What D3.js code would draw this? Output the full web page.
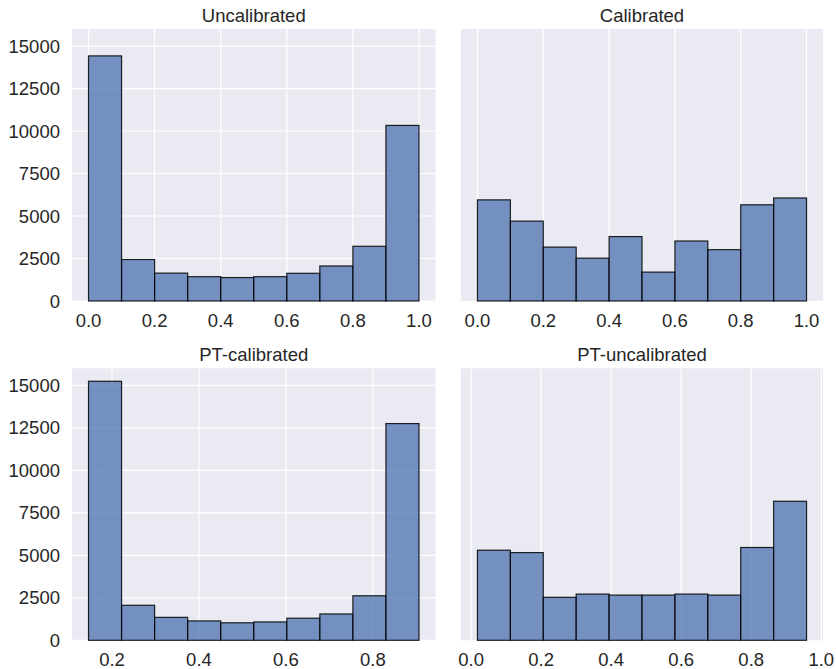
<!DOCTYPE html>
<meta charset="utf-8">

<head>
  <title>Calibration histograms</title>
  <script src="https://d3js.org/d3.v7.min.js"></script>
  <style>
    body { margin: 0; background: #fff; }
    text { font-family: "Liberation Sans", Arial, sans-serif; fill: #262626; }
  </style>
</head>

<body>
  <div id="my_dataviz"></div>

  <script>
    // bin edges and counts
    var uncalEdges = [0.0, 0.1, 0.2, 0.3, 0.4, 0.5, 0.6, 0.7, 0.8, 0.9, 1.0];
    var uncalCounts = [14420, 2440, 1640, 1430, 1380, 1430, 1630, 2060, 3220, 10330];

    var calEdges = [0.0, 0.1, 0.2, 0.3, 0.4, 0.5, 0.6, 0.7, 0.8, 0.9, 1.0];
    var calCounts = [5950, 4700, 3170, 2520, 3790, 1700, 3530, 3020, 5660, 6060];

    var ptCalEdges = [0.146, 0.222, 0.298, 0.374, 0.450, 0.526, 0.602, 0.678, 0.754, 0.830, 0.906];
    var ptCalCounts = [15240, 2060, 1350, 1140, 1030, 1080, 1300, 1550, 2620, 12750];

    var ptUncalEdges = [0.018, 0.112, 0.206, 0.300, 0.394, 0.488, 0.582, 0.676, 0.770, 0.864, 0.958];
    var ptUncalCounts = [5300, 5160, 2530, 2720, 2660, 2660, 2720, 2660, 5460, 8180];

    var titles = ["Uncalibrated", "Calibrated", "PT-calibrated", "PT-uncalibrated"];
    var yTicks = [0, 2500, 5000, 7500, 10000, 12500, 15000];
    var xTicksFull = [0.0, 0.2, 0.4, 0.6, 0.8, 1.0];
    var xTicksPT = [0.2, 0.4, 0.6, 0.8];

    var W = 836, H = 669;
    var plotH = 272;
    var colLeft = [72, 461], colWidth = [363.5, 362];
    var rowTop = [29, 368.3];

    var panels = [
      { title: titles[0], edges: uncalEdges, counts: uncalCounts, xticks: xTicksFull, col: 0, row: 0 },
      { title: titles[1], edges: calEdges, counts: calCounts, xticks: xTicksFull, col: 1, row: 0 },
      { title: titles[2], edges: ptCalEdges, counts: ptCalCounts, xticks: xTicksPT, col: 0, row: 1 },
      { title: titles[3], edges: ptUncalEdges, counts: ptUncalCounts, xticks: xTicksFull, col: 1, row: 1 }
    ];

    // shared y like plt.subplots(sharey=True)
    var yMax = d3.max(panels, p => d3.max(p.counts)) * 1.05;

    var svg = d3.select("#my_dataviz")
      .append("svg")
      .attr("width", W)
      .attr("height", H);

    panels.forEach(function (p) {
      var left = colLeft[p.col], top = rowTop[p.row], width = colWidth[p.col];
      var lo = p.edges[0], hi = p.edges[p.edges.length - 1], pad = (hi - lo) * 0.05;

      var x = d3.scaleLinear().domain([lo - pad, hi + pad]).range([0, width]);
      var y = d3.scaleLinear().domain([0, yMax]).range([plotH, 0]);

      var g = svg.append("g").attr("transform", "translate(" + left + "," + top + ")");

      g.append("rect")
        .attr("width", width)
        .attr("height", plotH)
        .style("fill", "#eaeaf2");

      // grid
      if (p.col == 0) {
        g.selectAll(".hgrid")
          .data(yTicks)
          .enter()
          .append("line")
          .attr("x1", 0).attr("x2", width)
          .attr("y1", d => y(d)).attr("y2", d => y(d))
          .style("stroke", "#fff").style("stroke-width", 1.2);

        g.selectAll(".ylab")
          .data(yTicks)
          .enter()
          .append("text")
          .attr("x", -12)
          .attr("y", d => y(d))
          .attr("dy", "0.36em")
          .attr("text-anchor", "end")
          .style("font-size", "18.5px")
          .text(d => d3.format("d")(d));
      }

      g.selectAll(".vgrid")
        .data(p.xticks)
        .enter()
        .append("line")
        .attr("x1", d => x(d)).attr("x2", d => x(d))
        .attr("y1", 0).attr("y2", plotH)
        .style("stroke", "#fff").style("stroke-width", 1.2);

      g.selectAll(".xlab")
        .data(p.xticks)
        .enter()
        .append("text")
        .attr("x", d => x(d))
        .attr("y", plotH + 26)
        .attr("text-anchor", "middle")
        .style("font-size", "18.5px")
        .text(d => d3.format(".1f")(d));

      // bars
      g.selectAll(".bar")
        .data(p.counts)
        .enter()
        .append("rect")
        .attr("x", (d, i) => x(p.edges[i]))
        .attr("y", d => y(d))
        .attr("width", (d, i) => x(p.edges[i + 1]) - x(p.edges[i]))
        .attr("height", d => plotH - y(d))
        .style("fill", "#4c72b0")
        .style("fill-opacity", 0.75)
        .style("stroke", "#000")
        .style("stroke-opacity", 0.85)
        .style("stroke-width", 1.2);

      g.append("text")
        .attr("x", width / 2)
        .attr("y", -7.5)
        .attr("text-anchor", "middle")
        .style("font-size", "18.5px")
        .text(p.title);
    });
  </script>
</body>

</html>
